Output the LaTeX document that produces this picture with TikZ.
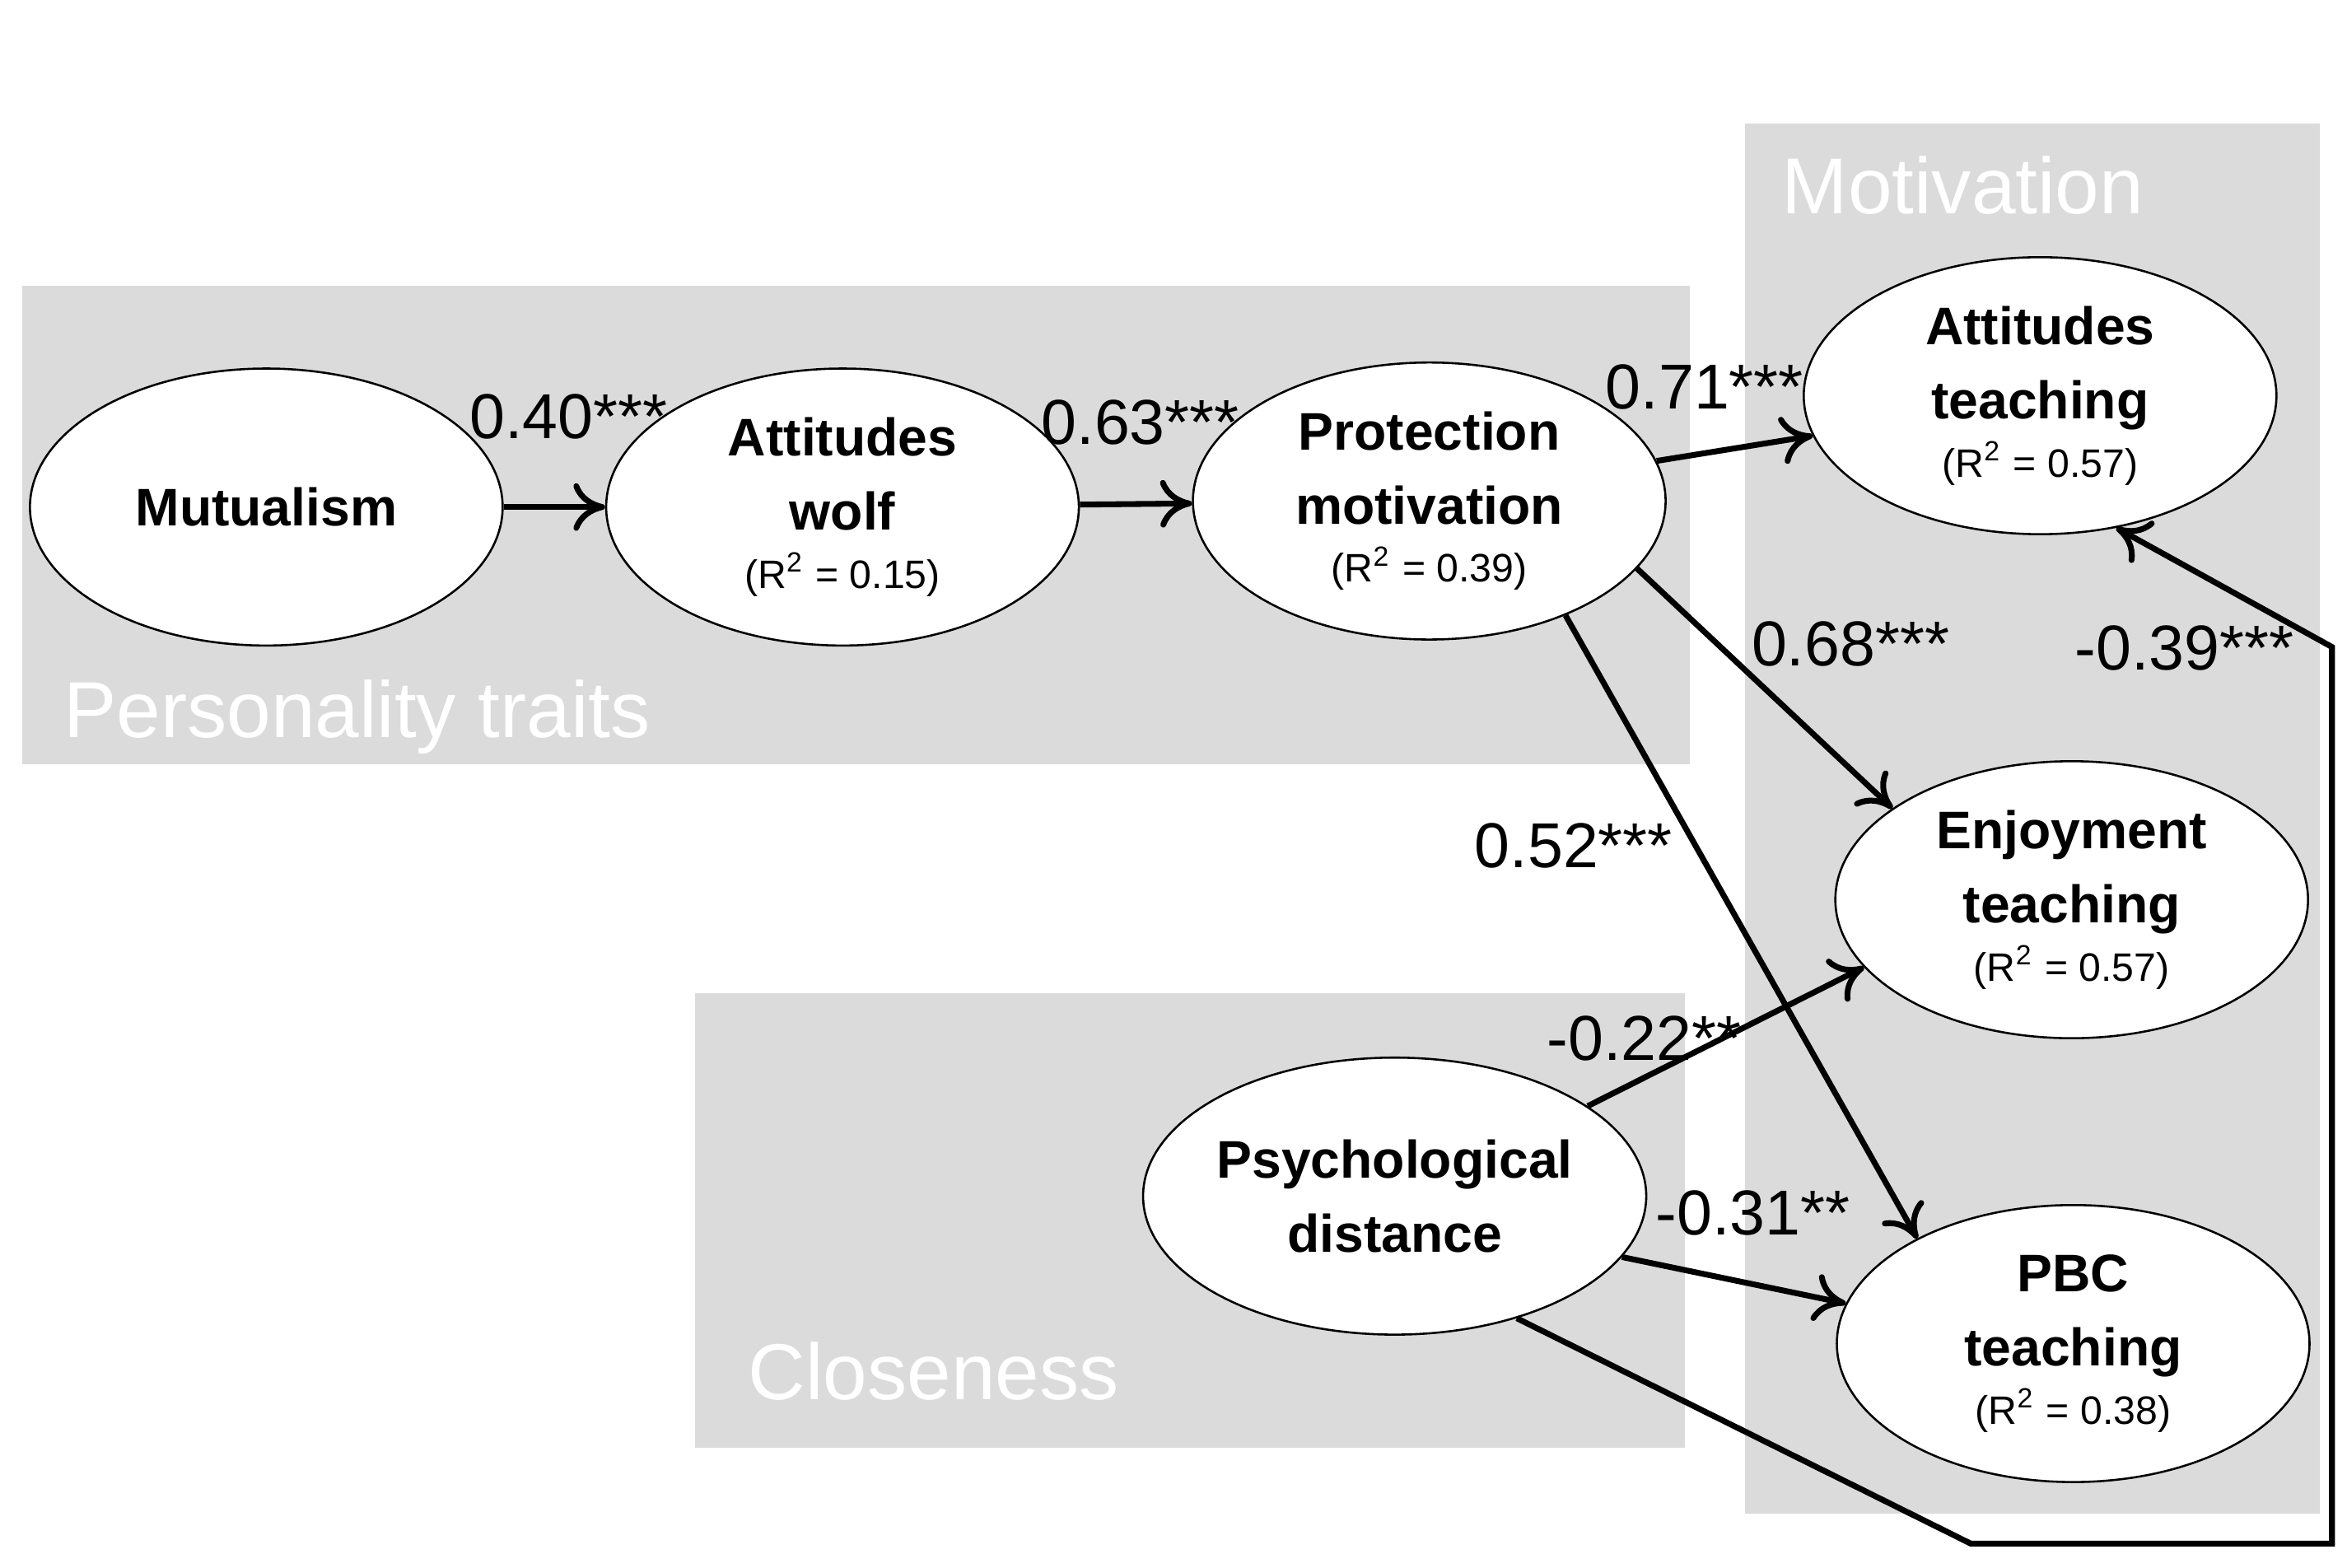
\documentclass[tikz,border=0pt]{standalone}
\usepackage{fontspec}
\setmainfont{Liberation Sans}
\usetikzlibrary{shapes.geometric,arrows.meta}
\begin{document}
\begin{tikzpicture}[x=0.01cm,y=-0.01cm,
  region/.style={fill=black!14,draw=none},
  rlabel/.style={text=white,font=\fontsize{15}{15}\selectfont,anchor=base west},
  var/.style={ellipse,draw,thin,fill=white,inner sep=0pt,minimum width=3.14cm,minimum height=1.84cm,align=center,font=\bfseries\fontsize{10}{14}\selectfont},
  path/.style={line width=1.1pt,-{To[length=6pt,width=9pt,line width=1.1pt]}},
  coef/.style={font=\fontsize{12}{12}\selectfont}]
\useasboundingbox (0,0) rectangle (1560,1042);
\fill[region] (15,190) rectangle (1123,508);
\fill[region] (1160,82) rectangle (1542,1006);
\fill[region] (462,660) rectangle (1120,962);
\node[rlabel] (lp) at (30,490) {Personality traits};
\node[rlabel] (lm) at (1172,142) {Motivation};
\node[rlabel] (lc) at (485,930) {Closeness};
\newcommand{\rsq}[1]{\\[-3pt]{\mdseries\fontsize{7.5}{9}\selectfont(R\textsuperscript{2} = #1)}}
\node[var] (mut) at (177,337) {Mutualism};
\node[var] (aw) at (560,337) {Attitudes\\wolf\rsq{0.15}};
\node[var] (pm) at (950,333) {Protection\\motivation\rsq{0.39}};
\node[var] (at) at (1356,263) {Attitudes\\teaching\rsq{0.57}};
\node[var] (et) at (1377,598) {Enjoyment\\teaching\rsq{0.57}};
\node[var] (pbc) at (1378,893) {PBC\\teaching\rsq{0.38}};
\node[var] (pd) at (927,795) {Psychological\\distance};
\draw[path] (mut) -- (aw);
\draw[path] (aw) -- (pm);
\draw[path] (pm.10) -- (at.190);
\draw[path] (pm.-18) -- (et.153);
\draw[path] (pm.-40) -- (pbc.146);
\draw[path] (pd.25) -- (et.198);
\draw[path] (pd.-15) -- (pbc.170);
\coordinate (c1) at (1310,1026);
\coordinate (c2) at (1550,1026);
\coordinate (c3) at (1550,430);
\draw[path] (pd.-45) -- (c1) -- (c2) -- (c3) -- (at.-60);
\node[coef] (k1) at (378,277) {0.40***};
\node[coef] (k2) at (758,281) {0.63***};
\node[coef] (k3) at (1133,257) {0.71***};
\node[coef] (k4) at (1230,428) {0.68***};
\node[coef] (k5) at (1046,562) {0.52***};
\node[coef] (k6) at (1093,690) {-0.22**};
\node[coef] (k7) at (1165,806) {-0.31**};
\node[coef] (k8) at (1452,431) {-0.39***};
\end{tikzpicture}
\end{document}
